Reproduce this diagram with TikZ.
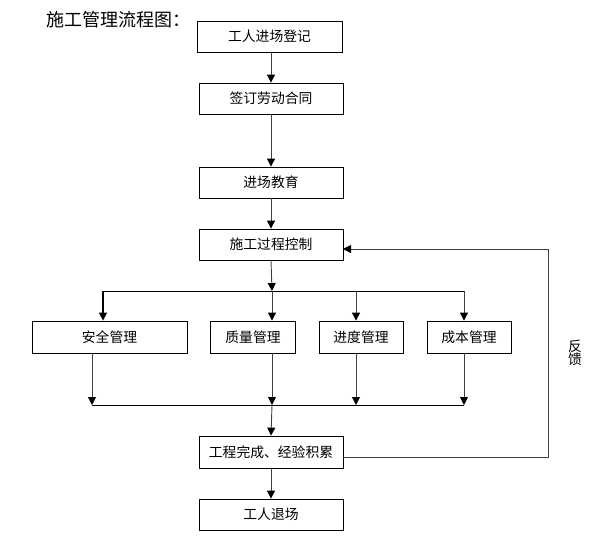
\documentclass[tikz,border=0pt]{standalone}
\usepackage{fontspec}
\setmainfont{Noto Sans CJK SC}
\usetikzlibrary{arrows.meta}
\begin{document}
\begin{tikzpicture}[x=1pt,y=-1pt,
  box/.style={draw=black,line width=0.8pt,rectangle,inner sep=0pt,font=\fontsize{13.8}{16}\selectfont},
  conn/.style={draw=black!75,line width=0.9pt},
  arr/.style={conn,-{Triangle[length=8pt,width=8pt,color=black]}}]
\useasboundingbox (0,0) rectangle (600,536);
\node[font=\fontsize{18}{21}\selectfont,anchor=west] (title) at (43,20) {施工管理流程图：};
\node[box,minimum width=145pt,minimum height=31pt] (b1) at (269.5,36.5) {工人进场登记};
\node[box,minimum width=144pt,minimum height=31pt] (b2) at (271,98.5) {签订劳动合同};
\node[box,minimum width=144pt,minimum height=31pt] (b3) at (271,182.5) {进场教育};
\node[box,minimum width=144pt,minimum height=31pt] (b4) at (271,244.5) {施工过程控制};
\node[box,minimum width=155pt,minimum height=32pt] (s1) at (109.5,337) {安全管理};
\node[box,minimum width=84.5pt,minimum height=32pt] (s2) at (253,337) {质量管理};
\node[box,minimum width=84pt,minimum height=32pt] (s3) at (361,337) {进度管理};
\node[box,minimum width=84pt,minimum height=32pt] (s4) at (469,337) {成本管理};
\node[box,minimum width=144pt,minimum height=32pt] (b5) at (271,452) {工程完成、经验积累};
\node[box,minimum width=144pt,minimum height=31pt] (b6) at (271,514.5) {工人退场};
\node[font=\fontsize{13.8}{15}\selectfont,align=center,inner sep=0pt] (fb) at (575,353) {反\\[-2pt]馈};
% coordinates
\coordinate (ta) at (103,291);
\coordinate (tb) at (272,291);
\coordinate (tc) at (356,291);
\coordinate (td) at (464,291);
\coordinate (ua) at (92,405);
\coordinate (ub) at (272,405);
\coordinate (uc) at (356,405);
\coordinate (ud) at (464,405);
\coordinate (fr) at (548,457);
\coordinate (fin) at (343,249);
% main chain
\draw[arr] (b2.north |- b1.south) -- (b2.north);
\draw[arr] (b2.south) -- (b3.north);
\draw[arr] (b3.south) -- (b4.north);
\draw[arr] (b4.south) -- (tb);
\draw[conn,draw=black] (ta) -- (td);
\draw[arr,draw=black,line width=1.2pt] (ta) -- (ta |- s1.north);
\draw[arr] (tb) -- (tb |- s2.north);
\draw[arr] (tc) -- (tc |- s3.north);
\draw[arr] (td) -- (td |- s4.north);
\draw[arr] (ua |- s1.south) -- (ua);
\draw[arr] (ub |- s2.south) -- (ub);
\draw[arr] (uc |- s3.south) -- (uc);
\draw[arr] (ud |- s4.south) -- (ud);
\draw[conn,draw=black] (ua) -- (ud);
\draw[arr] (ub) -- (b5.north);
\draw[arr] (b5.south) -- (b6.north);
% feedback
\draw[arr] (b5.east |- fr) -- (fr) -- (fr |- fin) -- (fin);
\end{tikzpicture}
\end{document}
